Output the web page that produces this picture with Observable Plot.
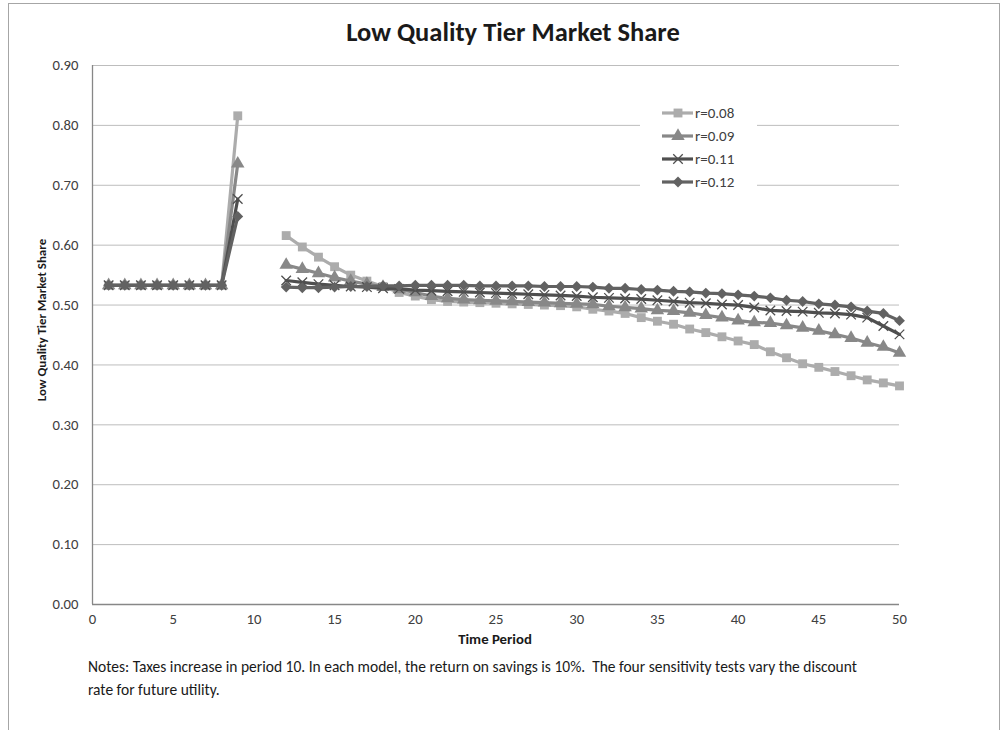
<!DOCTYPE html>
<html>
<head>
<meta charset="utf-8">
<script src="https://cdn.jsdelivr.net/npm/d3@7"></script>
<script src="https://cdn.jsdelivr.net/npm/@observablehq/plot@0.6"></script>
<style>
  html, body { margin: 0; padding: 0; background: #fff; }
  #wrap { position: relative; width: 1005px; height: 730px; overflow: hidden; font-family: Carlito, Lato, "Open Sans", sans-serif; }
  #frame { position: absolute; left: 8px; top: 3px; width: 990px; height: 740px; border-left: 1px solid #a6a6a6; border-top: 1px solid #a6a6a6; border-right: 1px solid #a6a6a6; }
  #title { position: absolute; left: 0; width: 1026px; top: 17px; line-height: 31px; text-align: center; font-size: 26.5px; font-weight: bold; color: #1a1a1a; }
  #chart { position: absolute; left: 0; top: 0; width: 1005px; }
  #ylabel { position: absolute; left: 41px; top: 320px; transform: translate(-50%, -50%) rotate(-90deg); white-space: nowrap; font-size: 12.9px; font-weight: bold; color: #1a1a1a; }
  #xlabel { position: absolute; left: 0; width: 990px; top: 630px; line-height: 18px; text-align: center; font-size: 14.8px; font-weight: bold; color: #1a1a1a; }
  #notes { position: absolute; left: 88px; top: 655px; width: 880px; font-size: 15.5px; line-height: 23px; color: #1a1a1a; }
  #legend { position: absolute; left: 640px; top: 101px; width: 117px; height: 93px; background: #fff; }
  .lrow { position: absolute; left: 22px; height: 20px; display: flex; align-items: center; font-size: 15px; color: #404040; white-space: nowrap; }
</style>
</head>
<body>
<div id="wrap">
  <div id="frame"></div>
  <div id="chart"></div>
  <div id="title">Low Quality Tier Market Share</div>
  <div id="ylabel">Low Quality Tier Market Share</div>
  <div id="xlabel">Time Period</div>
  <div id="legend"></div>
  <div id="notes">Notes: Taxes increase in period 10. In each model, the return on savings is 10%.&nbsp; The four sensitivity tests vary the discount<br>rate for future utility.</div>
</div>
<script>
// ---- data ----
const periods = [1,2,3,4,5,6,7,8,9,10,11,12,13,14,15,16,17,18,19,20,21,22,23,24,25,26,27,28,29,30,31,32,33,34,35,36,37,38,39,40,41,42,43,44,45,46,47,48,49,50];
const seriesNames = ["r=0.08", "r=0.09", "r=0.11", "r=0.12"];
const r08 = [0.533,0.533,0.533,0.533,0.533,0.533,0.533,0.533,0.816,null,null,
  0.616,0.597,0.580,0.564,0.550,0.540,0.531,0.521,0.515,0.509,0.506,0.505,0.504,0.503,0.502,0.501,0.500,0.499,0.497,
  0.493,0.490,0.486,0.479,0.473,0.468,0.460,0.454,0.447,0.440,0.434,0.422,0.412,0.402,0.396,0.389,0.382,0.375,0.370,0.365];
const r09 = [0.533,0.533,0.533,0.533,0.533,0.533,0.533,0.533,0.736,null,null,
  0.567,0.560,0.553,0.546,0.540,0.535,0.530,0.526,0.521,0.515,0.511,0.509,0.508,0.507,0.506,0.505,0.504,0.503,0.502,
  0.501,0.498,0.496,0.494,0.491,0.490,0.487,0.483,0.479,0.474,0.471,0.470,0.466,0.462,0.457,0.451,0.445,0.437,0.430,0.420];
const r11 = [0.533,0.533,0.533,0.533,0.533,0.533,0.533,0.533,0.677,null,null,
  0.541,0.538,0.535,0.533,0.531,0.530,0.528,0.527,0.525,0.524,0.523,0.522,0.521,0.520,0.519,0.518,0.517,0.516,0.515,
  0.513,0.512,0.511,0.510,0.508,0.506,0.504,0.503,0.501,0.500,0.496,0.491,0.490,0.489,0.487,0.486,0.484,0.479,0.465,0.451];
const r12 = [0.533,0.533,0.533,0.533,0.533,0.533,0.533,0.533,0.648,null,null,
  0.530,0.529,0.529,0.530,0.531,0.531,0.532,0.532,0.533,0.533,0.533,0.533,0.532,0.532,0.532,0.532,0.531,0.531,0.531,
  0.530,0.528,0.528,0.526,0.525,0.523,0.522,0.520,0.519,0.517,0.515,0.512,0.508,0.506,0.502,0.500,0.497,0.490,0.486,0.474];
const xTicks = [0,5,10,15,20,25,30,35,40,45,50];
const yTicks = [0,0.1,0.2,0.3,0.4,0.5,0.6,0.7,0.8,0.9];

// ---- styles ----
const seriesValues = [r08, r09, r11, r12];
const colors = ["#acacac", "#888888", "#4f4f4f", "#626262"];
const symbols = ["square", "triangle", "times", "diamond2"];
const d3symbols = [d3.symbolSquare, d3.symbolTriangle, d3.symbolTimes, d3.symbolDiamond2];
const radii = [5.0, 5.0, 4.4, 4.9];

const rows = [];
seriesNames.forEach((name, i) => {
  periods.forEach((p, j) => rows.push({series: name, period: p, value: seriesValues[i][j]}));
});

const marks = [
  Plot.gridY(yTicks, {stroke: "#bdbdbd", strokeOpacity: 1, strokeWidth: 1}),
  Plot.ruleY([0], {stroke: "#878787", strokeWidth: 1.3}),
  Plot.ruleX([0], {stroke: "#878787", strokeWidth: 1.3}),
  Plot.axisY({ticks: yTicks, tickFormat: d3.format(".2f"), tickSize: 0, tickPadding: 14, label: null, fill: "#404040", fontSize: 14.7}),
  Plot.axisX({ticks: xTicks, tickFormat: d3.format("d"), tickSize: 0, tickPadding: 9, label: null, fill: "#404040", fontSize: 14.7})
];
seriesNames.forEach((name, i) => {
  const data = rows.filter(d => d.series === name);
  marks.push(Plot.line(data, {x: "period", y: "value", stroke: colors[i], strokeWidth: 3.2, curve: "linear"}));
  const dotOpts = {x: "period", y: "value", symbol: () => symbols[i], r: radii[i]};
  if (symbols[i] === "times") {
    dotOpts.stroke = colors[i]; dotOpts.strokeWidth = 1.3; dotOpts.fill = "none";
  } else {
    dotOpts.fill = colors[i]; dotOpts.stroke = "none";
  }
  marks.push(Plot.dot(data.filter(d => d.value != null), dotOpts));
});

const chart = Plot.plot({
  width: 1005,
  height: 730,
  marginLeft: 92,
  marginRight: 106,
  marginTop: 65,
  marginBottom: 126,
  x: {domain: [0, 50]},
  y: {domain: [0, 0.9]},
  symbol: {type: "identity"},
  style: {fontFamily: "Carlito, Lato, 'Open Sans', sans-serif", fontSize: "14.7px", background: "transparent", overflow: "visible"},
  marks
});
document.getElementById("chart").appendChild(chart);

// ---- legend ----
const legend = d3.select("#legend");
const rowTops = [2, 25, 48, 71];
seriesNames.forEach((name, i) => {
  const row = legend.append("div").attr("class", "lrow").style("top", rowTops[i] + "px");
  const svg = row.append("svg").attr("width", 33).attr("height", 20).style("display", "block");
  svg.append("line").attr("x1", 0).attr("x2", 31).attr("y1", 10).attr("y2", 10)
    .attr("stroke", colors[i]).attr("stroke-width", 3.2);
  const area = Math.PI * radii[i] * radii[i];
  const path = svg.append("path").attr("transform", "translate(16,10)")
    .attr("d", d3.symbol(d3symbols[i], area)());
  if (symbols[i] === "times") path.attr("fill", "none").attr("stroke", colors[i]).attr("stroke-width", 1.3);
  else path.attr("fill", colors[i]);
  row.append("span").text(name);
});
</script>
</body>
</html>
